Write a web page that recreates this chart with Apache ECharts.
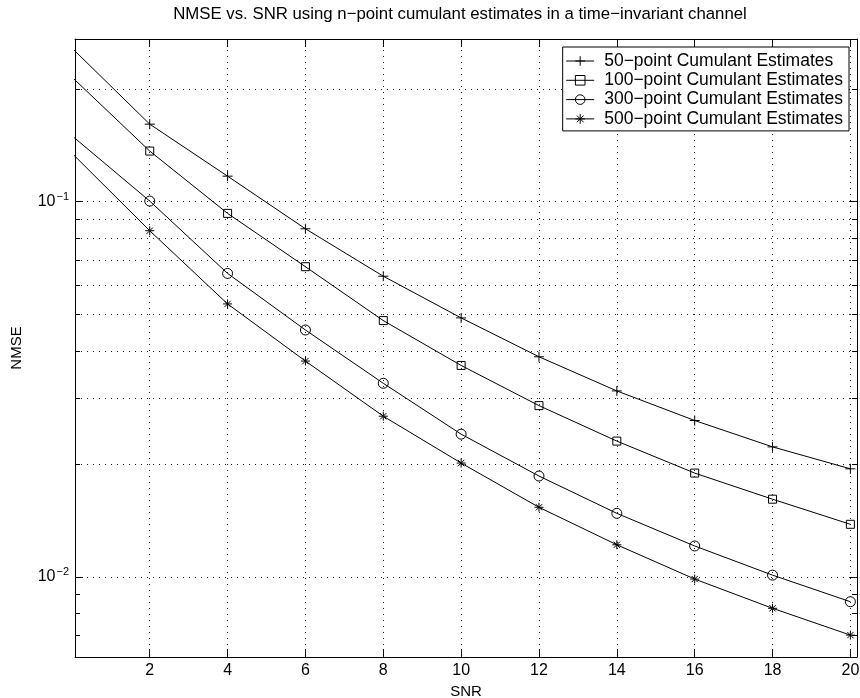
<!DOCTYPE html>
<html><head><meta charset="utf-8">
<script src="https://cdn.jsdelivr.net/npm/echarts@6/dist/echarts.min.js"></script>
<style>html,body{margin:0;padding:0;background:#fff}#c{width:860px;height:698px}</style>
</head><body><div id="c"></div>
<script>
// ---- data ----
const snr = [0, 2, 4, 6, 8, 10, 12, 14, 16, 18, 20];
const nmse50  = [0.257, 0.161, 0.117, 0.0847, 0.0633, 0.0490, 0.0386, 0.0313, 0.0261, 0.0222, 0.0194];
const nmse100 = [0.215, 0.1365, 0.0931, 0.0671, 0.0482, 0.0366, 0.0286, 0.0230, 0.0189, 0.0161, 0.0138];
const nmse300 = [0.150, 0.1004, 0.0644, 0.0455, 0.0328, 0.0240, 0.01856, 0.01476, 0.01208, 0.0101, 0.00858];
const nmse500 = [0.1347, 0.0837, 0.0534, 0.0376, 0.0268, 0.0201, 0.01532, 0.01217, 0.00986, 0.00824, 0.00699];
const seriesNames = ['50\u2212point Cumulant Estimates', '100\u2212point Cumulant Estimates',
                     '300\u2212point Cumulant Estimates', '500\u2212point Cumulant Estimates'];
const xTicks = [2, 4, 6, 8, 10, 12, 14, 16, 18, 20];
const yMinorTicks = [0.007, 0.008, 0.009, 0.02, 0.03, 0.04, 0.05, 0.06, 0.07, 0.08, 0.09, 0.2];
const yMajorTicks = [0.01, 0.1];
const titleText = 'NMSE vs. SNR using n\u2212point cumulant estimates in a time\u2212invariant channel';

// ---- axis limits ----
const xMin = 0.08, xMax = 20.17;
const yMin = 0.00611, yMax = 0.2716;

const FONT = '"Liberation Sans", Arial, Helvetica, sans-serif';
const PLUS = 'path://M0,5L10,5M5,0L5,10';
const STAR = 'path://M5,0L5,10M0,5L10,5M1.5,1.5L8.5,8.5M1.5,8.5L8.5,1.5';

function mk(name, vals, symbol, size) {
  return {
    name: name, type: 'line', xAxisIndex: 0, yAxisIndex: 0,
    data: snr.map((x, i) => [x, vals[i]]),
    symbol: symbol,
    symbolSize: (v) => (v[0] < xMin ? 0 : size),
    showAllSymbol: true, clip: true, animation: false, z: 2,
    lineStyle: { color: '#000', width: 1 },
    itemStyle: { color: 'rgba(0,0,0,0)', borderColor: '#000', borderWidth: 1 },
    emphasis: { disabled: true }
  };
}

const s1 = mk(seriesNames[0], nmse50, PLUS, 10);
const s2 = mk(seriesNames[1], nmse100, 'rect', 8);
const s3 = mk(seriesNames[2], nmse300, 'circle', 10);
const s4 = mk(seriesNames[3], nmse500, STAR, 9);

// dotted grid (major + minor)
s1.markLine = {
  silent: true, symbol: ['none', 'none'], label: { show: false }, animation: false,
  lineStyle: { type: [1, 5], color: '#222', width: 1 },
  emphasis: { disabled: true },
  data: [].concat(
    xTicks.map(v => ({ xAxis: v })),
    yMinorTicks.concat(yMajorTicks).map(v => ({ yAxis: v }))
  )
};
// minor ticks on left and right of the box
const tx = 0.13;
s2.markLine = {
  silent: true, symbol: ['none', 'none'], label: { show: false }, animation: false,
  lineStyle: { type: 'solid', color: '#000', width: 1 },
  emphasis: { disabled: true },
  data: [].concat(
    yMinorTicks.map(v => [{ coord: [xMin, v] }, { coord: [xMin + tx, v] }]),
    yMinorTicks.map(v => [{ coord: [xMax - tx, v] }, { coord: [xMax, v] }])
  )
};

function yLabel(v) {
  const e = Math.log10(v), r = Math.round(e);
  if (Math.abs(e - r) > 1e-6) return '';
  return '{b|10}{s|\u2212' + Math.abs(r) + '}';
}

const option = {
  animation: false,
  textStyle: { fontFamily: FONT, color: '#000' },
  title: {
    text: titleText, left: 460, top: 6, textAlign: 'center', padding: 0,
    textStyle: { fontFamily: FONT, fontSize: 16.8, fontWeight: 'normal', color: '#000' }
  },
  legend: {
    orient: 'vertical', right: 11, top: 47, selectedMode: false, z: 20, zlevel: 0,
    data: seriesNames,
    itemWidth: 28, itemHeight: 12, itemGap: 1.3,
    padding: [5, 6, 3, 3],
    backgroundColor: '#fff', borderColor: '#000', borderWidth: 1,
    lineStyle: { width: 1, color: '#000' },
    itemStyle: { borderWidth: 1, borderColor: '#000', color: 'rgba(0,0,0,0)' },
    textStyle: { fontFamily: FONT, fontSize: 17.5, color: '#000', padding: [0, 0, 0, 5] }
  },
  grid: { left: 75, right: 3, top: 39, bottom: 41, containLabel: false, outerBoundsMode: 'none' },
  xAxis: [
    {
      type: 'value', min: xMin, max: xMax, position: 'bottom',
      axisLine: { show: true, onZero: false, lineStyle: { color: '#000', width: 1 } },
      axisTick: { show: true, inside: true, length: 8, customValues: xTicks, lineStyle: { color: '#000' } },
      axisLabel: { customValues: xTicks, margin: 6, fontSize: 16, color: '#000', fontFamily: FONT },
      splitLine: { show: false },
      name: 'SNR', nameLocation: 'middle', nameGap: 26,
      nameTextStyle: { fontSize: 15, color: '#000', fontFamily: FONT }
    },
    {
      type: 'value', min: xMin, max: xMax, position: 'top',
      axisLine: { show: true, onZero: false, lineStyle: { color: '#000', width: 1 } },
      axisTick: { show: true, inside: true, length: 8, customValues: xTicks, lineStyle: { color: '#000' } },
      axisLabel: { show: false }, splitLine: { show: false }
    }
  ],
  yAxis: [
    {
      type: 'log', logBase: 10, min: yMin, max: yMax, position: 'left',
      axisLine: { show: true, onZero: false, lineStyle: { color: '#000', width: 1 } },
      axisTick: { show: true, inside: true, length: 8, lineStyle: { color: '#000' } },
      splitLine: { show: false },
      axisLabel: {
        margin: 6, showMinLabel: false, showMaxLabel: false, formatter: yLabel,
        rich: {
          b: { fontSize: 16, color: '#000', fontFamily: FONT },
          s: { fontSize: 11, color: '#000', fontFamily: FONT, padding: [0, 0, 9, 1] }
        }
      },
      name: 'NMSE', nameLocation: 'middle', nameGap: 51, nameRotate: 90,
      nameTextStyle: { fontSize: 15, color: '#000', fontFamily: FONT }
    },
    {
      type: 'log', logBase: 10, min: yMin, max: yMax, position: 'right',
      axisLine: { show: true, onZero: false, lineStyle: { color: '#000', width: 1 } },
      axisTick: { show: true, inside: true, length: 8, lineStyle: { color: '#000' } },
      axisLabel: { show: false }, splitLine: { show: false }
    }
  ],
  series: [s1, s2, s3, s4]
};

const chart = echarts.init(document.getElementById('c'), null, { renderer: 'canvas' });
chart.setOption(option);
</script>
</body></html>
